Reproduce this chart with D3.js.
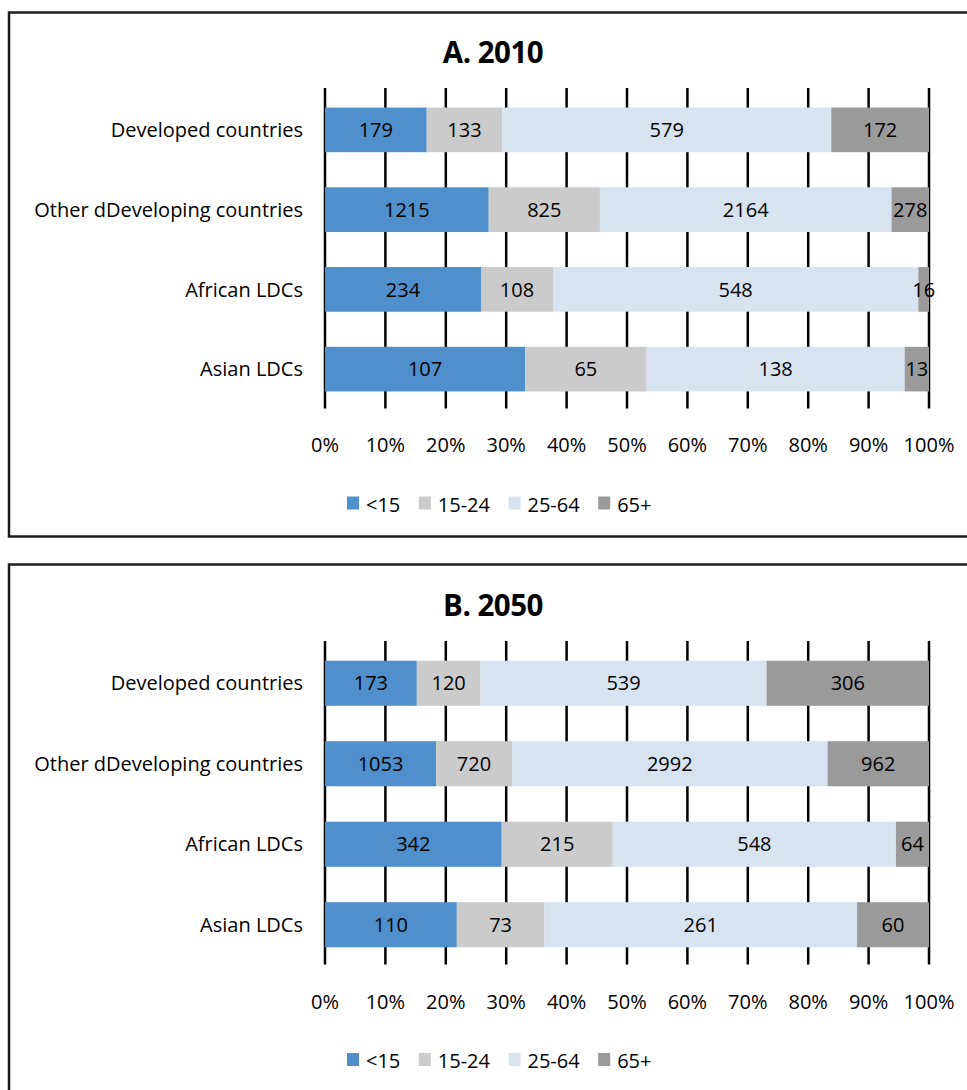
<!DOCTYPE html>
<html>
<head>
<meta charset="utf-8">
<script src="https://cdn.jsdelivr.net/npm/d3@7"></script>
<style>
  html, body { margin: 0; padding: 0; background: #fff; }
  svg { display: block; }
  text { font-family: "Open Sans", "Noto Sans", sans-serif; fill: #000; }
</style>
</head>
<body>
<svg id="chart" width="967" height="1090"></svg>
<script>
// Population by age group (millions)
const categories = ["Developed countries", "Other dDeveloping countries", "African LDCs", "Asian LDCs"];
const ageGroups = ["<15", "15-24", "25-64", "65+"];
const values2010 = [
  [179, 133, 579, 172],
  [1215, 825, 2164, 278],
  [234, 108, 548, 16],
  [107, 65, 138, 13]
];
const values2050 = [
  [173, 120, 539, 306],
  [1053, 720, 2992, 962],
  [342, 215, 548, 64],
  [110, 73, 261, 60]
];
const panelTitles = ["A. 2010", "B. 2050"];
const tickValues = [0, 0.1, 0.2, 0.3, 0.4, 0.5, 0.6, 0.7, 0.8, 0.9, 1];
const tickLabels = ["0%", "10%", "20%", "30%", "40%", "50%", "60%", "70%", "80%", "90%", "100%"];
const colors = ["#4f8fcc", "#cbcbcb", "#d8e3f2", "#9a9a9a"];

const svg = d3.select("#chart");
const fontSize = 20;

// layout of the two framed panels
const panels = [
  { title: panelTitles[0], values: values2010, frameTop: 12.5, frameBottom: 536.5,
    titleY: 63, axisTop: 88, axisBottom: 408.5, bandTop: 90, bandBottom: 409,
    tickLabelY: 452, legendY: 511.5 },
  { title: panelTitles[1], values: values2050, frameTop: 564.5, frameBottom: 1100,
    titleY: 616, axisTop: 641, axisBottom: 964.5, bandTop: 643, bandBottom: 965,
    tickLabelY: 1009, legendY: 1068 }
];

const x = d3.scaleLinear().domain([0, 1]).range([325, 929]);
const color = d3.scaleOrdinal().domain(ageGroups).range(colors);

panels.forEach(p => {
  const g = svg.append("g");

  // frame
  g.append("rect")
    .attr("x", 9).attr("y", p.frameTop)
    .attr("width", 985).attr("height", p.frameBottom - p.frameTop)
    .attr("fill", "none").attr("stroke", "#1c1c1c").attr("stroke-width", 2.5);

  // title
  g.append("text")
    .attr("x", 493).attr("y", p.titleY)
    .attr("text-anchor", "middle")
    .attr("font-size", 29.5).attr("font-weight", 700)
    .attr("letter-spacing", -0.5)
    .text(p.title);

  const y = d3.scaleBand().domain(categories)
    .range([p.bandTop, p.bandBottom])
    .paddingInner(0.44).paddingOuter(0.22);

  // vertical tick lines spanning the plot, behind the bars
  g.append("g").selectAll("line").data(tickValues).join("line")
    .attr("x1", d => x(d)).attr("x2", d => x(d))
    .attr("y1", p.axisTop).attr("y2", p.axisBottom)
    .attr("stroke", "#000").attr("stroke-width", 2.5);

  // stacked, normalised bars
  const rows = categories.map((c, i) => {
    const o = { category: c };
    ageGroups.forEach((a, j) => { o[a] = p.values[i][j]; });
    return o;
  });
  const series = d3.stack().keys(ageGroups).offset(d3.stackOffsetExpand)(rows);

  const layers = g.append("g").selectAll("g").data(series).join("g")
    .attr("fill", d => color(d.key));

  layers.selectAll("rect").data(d => d).join("rect")
    .attr("x", d => x(d[0]))
    .attr("width", d => x(d[1]) - x(d[0]))
    .attr("y", d => y(d.data.category))
    .attr("height", y.bandwidth());

  // value labels
  const labels = g.append("g");
  series.forEach(s => {
    s.forEach(d => {
      labels.append("text")
        .attr("x", (x(d[0]) + x(d[1])) / 2)
        .attr("y", y(d.data.category) + y.bandwidth() / 2)
        .attr("dy", "0.36em")
        .attr("text-anchor", "middle")
        .attr("font-size", fontSize)
        .text(d.data[s.key]);
    });
  });

  // category labels
  g.append("g").selectAll("text").data(categories).join("text")
    .attr("x", 303)
    .attr("y", d => y(d) + y.bandwidth() / 2)
    .attr("dy", "0.36em")
    .attr("text-anchor", "end")
    .attr("font-size", fontSize)
    .text(d => d);

  // percentage axis labels
  g.append("g").selectAll("text").data(tickValues).join("text")
    .attr("x", d => x(d))
    .attr("y", p.tickLabelY)
    .attr("text-anchor", "middle")
    .attr("font-size", fontSize)
    .text((d, i) => tickLabels[i]);

  // legend
  const legend = g.append("g");
  let lx = 347;
  ageGroups.forEach(a => {
    legend.append("rect")
      .attr("x", lx).attr("y", p.legendY - 15)
      .attr("width", 12).attr("height", 13)
      .attr("fill", color(a));
    const t = legend.append("text")
      .attr("x", lx + 19).attr("y", p.legendY)
      .attr("font-size", fontSize)
      .text(a);
    lx += 19 + t.node().getComputedTextLength() + 18.5;
  });
});
</script>
</body>
</html>
